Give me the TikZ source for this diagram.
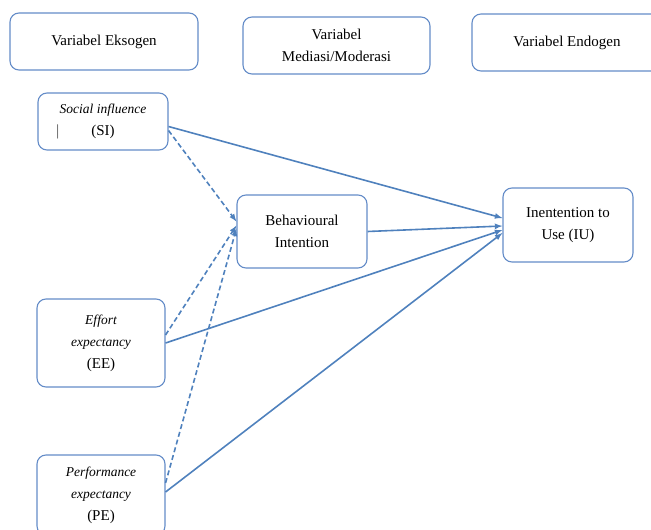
\documentclass[tikz,border=0pt]{standalone}
\usepackage{fontspec}
\setmainfont{Liberation Serif}
\newcommand{\itx}[1]{{\fontsize{13.5}{22}\selectfont\itshape #1}}
\begin{document}
\begin{tikzpicture}[x=1pt,y=-1pt,>=latex,
    box/.style={draw=boxblue,line width=1.1pt,rounded corners=9pt,fill=white,align=center,
      inner sep=2pt,font=\fontsize{15}{22}\selectfont},
    link/.style={->,draw=lineblue,line width=1.6pt},
    dlink/.style={link,dashed,dash pattern=on 5pt off 3pt}]
        \definecolor{boxblue}{RGB}{100,140,200}
        \definecolor{lineblue}{RGB}{79,129,189}
        \useasboundingbox (0,0) rectangle (651,530);
        \clip (0,0) rectangle (651,530);
        \node[box,minimum width=188pt,minimum height=57pt](eks) at(104,41.5){Variabel Eksogen};
        \node[box,minimum width=187pt,minimum height=57pt](med) at(336.5,45.5){Variabel\\Mediasi/Moderasi};
        \node[box,minimum width=190pt,minimum height=57pt](endo) at(567,42.5){Variabel Endogen};
        \node[box,minimum width=130pt,minimum height=57pt](si) at(103,121.5){\itx{Social influence}\\$\big|$\hspace{2.1em}(SI)\hspace{2.1em}\phantom{$\big|$}};
        \node[box,minimum width=130pt,minimum height=73pt](bi) at(302,231.5){Behavioural\\Intention};
        \node[box,minimum width=128pt,minimum height=88pt](ee) at(101,343){\itx{Effort}\\\itx{expectancy}\\(EE)};
        \node[box,minimum width=128pt,minimum height=80pt](pe) at(101,495){\itx{Performance}\\\itx{expectancy}\\(PE)};
        \node[box,minimum width=130pt,minimum height=74pt](iu) at(568,225){Inentention to\\Use (IU)};
        % solid paths to IU
        \draw[link]([yshift=-5pt]si.east)--([yshift=7pt]iu.west);
        \draw[link](bi.east)--([yshift=-1pt]iu.west);
        \draw[link](ee.east)--([yshift=-5pt]iu.west);
        \draw[link]([yshift=3pt]pe.east)--([yshift=-8pt]iu.west);
        % dashed paths to BI
        \draw[dlink]([yshift=-9pt]si.east)--([yshift=10pt]bi.west);
        \draw[dlink]([yshift=8pt]ee.east)--([yshift=6pt]bi.west);
        \draw[dlink]([yshift=12pt]pe.east)--([yshift=3pt]bi.west);
\end{tikzpicture}
\end{document}
